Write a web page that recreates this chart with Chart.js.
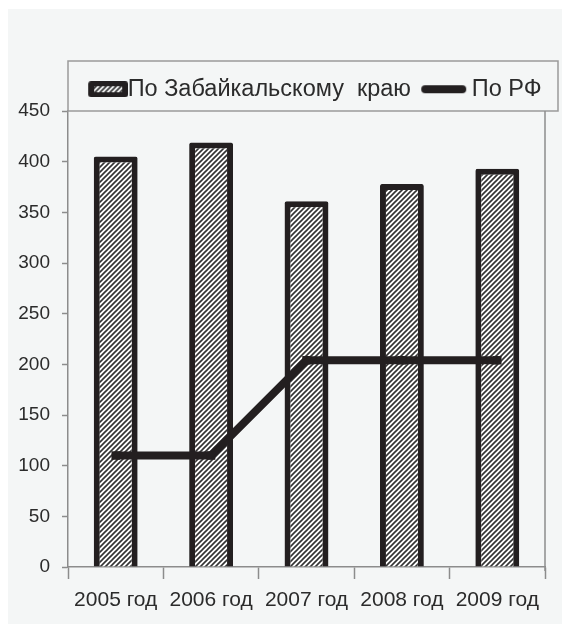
<!DOCTYPE html>
<html>
<head>
<meta charset="utf-8">
<script src="https://cdn.jsdelivr.net/npm/chart.js@4.4.1/dist/chart.umd.min.js"></script>
<style>
  html, body { margin: 0; padding: 0; background: #fff; }
  #wrap { position: absolute; left: 8px; top: 9px; width: 554px; height: 615px; background: #f4f6f6; }
</style>
</head>
<body>
<div id="wrap"><canvas id="myChart" width="554" height="615"></canvas></div>
<script>
const years = ["2005 год", "2006 год", "2007 год", "2008 год", "2009 год"];
const regionValues = [405, 419, 361, 378, 393]; // По Забайкальскому краю
const rfValues = [110, 110, 204, 204, 204];      // По РФ
const legendLabels = ["По Забайкальскому  краю", "По РФ"];

const dark = "#231f20";
const axisGray = "#8c8c8c";
const textColor = "#2b2b2b";
const fontFamily = "'Liberation Sans', Arial, sans-serif";

// штриховка для столбцов
function makeHatch() {
  const c = document.createElement("canvas");
  c.width = 5; c.height = 5;
  const g = c.getContext("2d");
  g.fillStyle = "#ffffff";
  g.fillRect(0, 0, 5, 5);
  g.strokeStyle = "#333";
  g.lineWidth = 1.6;
  g.beginPath();
  g.moveTo(-1, 6); g.lineTo(6, -1);
  g.moveTo(-1, 1); g.lineTo(1, -1);
  g.moveTo(4, 6); g.lineTo(6, 4);
  g.stroke();
  return g.createPattern(c, "repeat");
}
const hatch = makeHatch();

// значки легенды (прозрачные поля подгоняют зазоры)
const barIcon = document.createElement("canvas");
barIcon.width = 57; barIcon.height = 16;
(function () {
  const g = barIcon.getContext("2d");
  g.fillStyle = dark;
  g.beginPath();
  g.roundRect(17, 0, 40, 16, 3);
  g.fill();
  g.fillStyle = hatch;
  g.fillRect(23, 5, 28, 6);
})();

const lineIcon = document.createElement("canvas");
lineIcon.width = 57; lineIcon.height = 10;
(function () {
  const g = lineIcon.getContext("2d");
  g.strokeStyle = dark;
  g.lineWidth = 8;
  g.lineCap = "round";
  g.beginPath();
  g.moveTo(10, 5); g.lineTo(47, 5);
  g.stroke();
})();

// рамка легенды и правая граница области графика
const framePlugin = {
  id: "frame",
  afterDraw(chart) {
    const { ctx, chartArea, legend } = chart;
    ctx.save();
    ctx.strokeStyle = "#9a9a9a";
    ctx.lineWidth = 1.5;
    ctx.strokeRect(chartArea.left, legend.top, legend.right - chartArea.left, legend.bottom - legend.top);
    ctx.strokeStyle = axisGray;
    ctx.beginPath();
    ctx.moveTo(chartArea.right, legend.bottom);
    ctx.lineTo(chartArea.right, chartArea.bottom + 4);
    ctx.stroke();
    ctx.restore();
  }
};

const ctx = document.getElementById("myChart").getContext("2d");

const config = {
  data: {
    labels: years,
    datasets: [
      {
        type: "bar",
        label: legendLabels[0],
        data: regionValues,
        backgroundColor: hatch,
        borderColor: dark,
        borderWidth: 6,
        borderRadius: 2,
        categoryPercentage: 1,
        barPercentage: 0.46,
        order: 1,
      },
      {
        type: "line",
        label: legendLabels[1],
        data: rfValues,
        borderColor: dark,
        backgroundColor: dark,
        borderWidth: 8,
        tension: 0,
        fill: false,
        pointStyle: "rect",
        pointRadius: 6,
        pointBorderWidth: 0,
        order: 0,
      },
    ],
  },
  options: {
    responsive: false,
    animation: false,
    devicePixelRatio: 1,
    layout: {
      padding: { top: 52, left: 0, right: 4, bottom: 0 },
    },
    plugins: {
      tooltip: { enabled: false },
      legend: {
        display: true,
        position: "top",
        align: "end",
        labels: {
          usePointStyle: true,
          pointStyleWidth: 32.5,
          padding: 16.5,
          color: textColor,
          font: { family: fontFamily, size: 23.5 },
          generateLabels: function () {
            return [
              { text: legendLabels[0], pointStyle: barIcon, datasetIndex: 0, hidden: false, lineWidth: 0, fontColor: textColor },
              { text: legendLabels[1], pointStyle: lineIcon, datasetIndex: 1, hidden: false, lineWidth: 0, fontColor: textColor },
            ];
          },
        },
      },
    },
    scales: {
      x: {
        offset: true,
        grid: {
          offset: true,
          drawOnChartArea: false,
          drawTicks: true,
          tickLength: 12,
          tickColor: axisGray,
          tickWidth: 1.5,
        },
        border: { color: axisGray, width: 1.5 },
        ticks: {
          color: textColor,
          padding: 9,
          font: { family: fontFamily, size: 21 },
        },
        afterFit: function (scale) { scale.height = 57; },
      },
      y: {
        min: 0,
        max: 450,
        grid: {
          drawOnChartArea: false,
          drawTicks: true,
          tickLength: 6,
          tickColor: axisGray,
          tickWidth: 1.5,
        },
        border: { color: axisGray, width: 1.5 },
        ticks: {
          stepSize: 50,
          color: textColor,
          padding: 12,
          font: { family: fontFamily, size: 19 },
        },
        afterFit: function (scale) { scale.width = 60; },
      },
      y2: {
        position: "right",
        display: true,
        grid: { display: false },
        border: { display: false },
        ticks: { display: false },
        afterFit: function (scale) { scale.width = 13; },
      },
    },
  },
  plugins: [framePlugin],
};

const regionChart = new Chart(ctx, config);
</script>
</body>
</html>
